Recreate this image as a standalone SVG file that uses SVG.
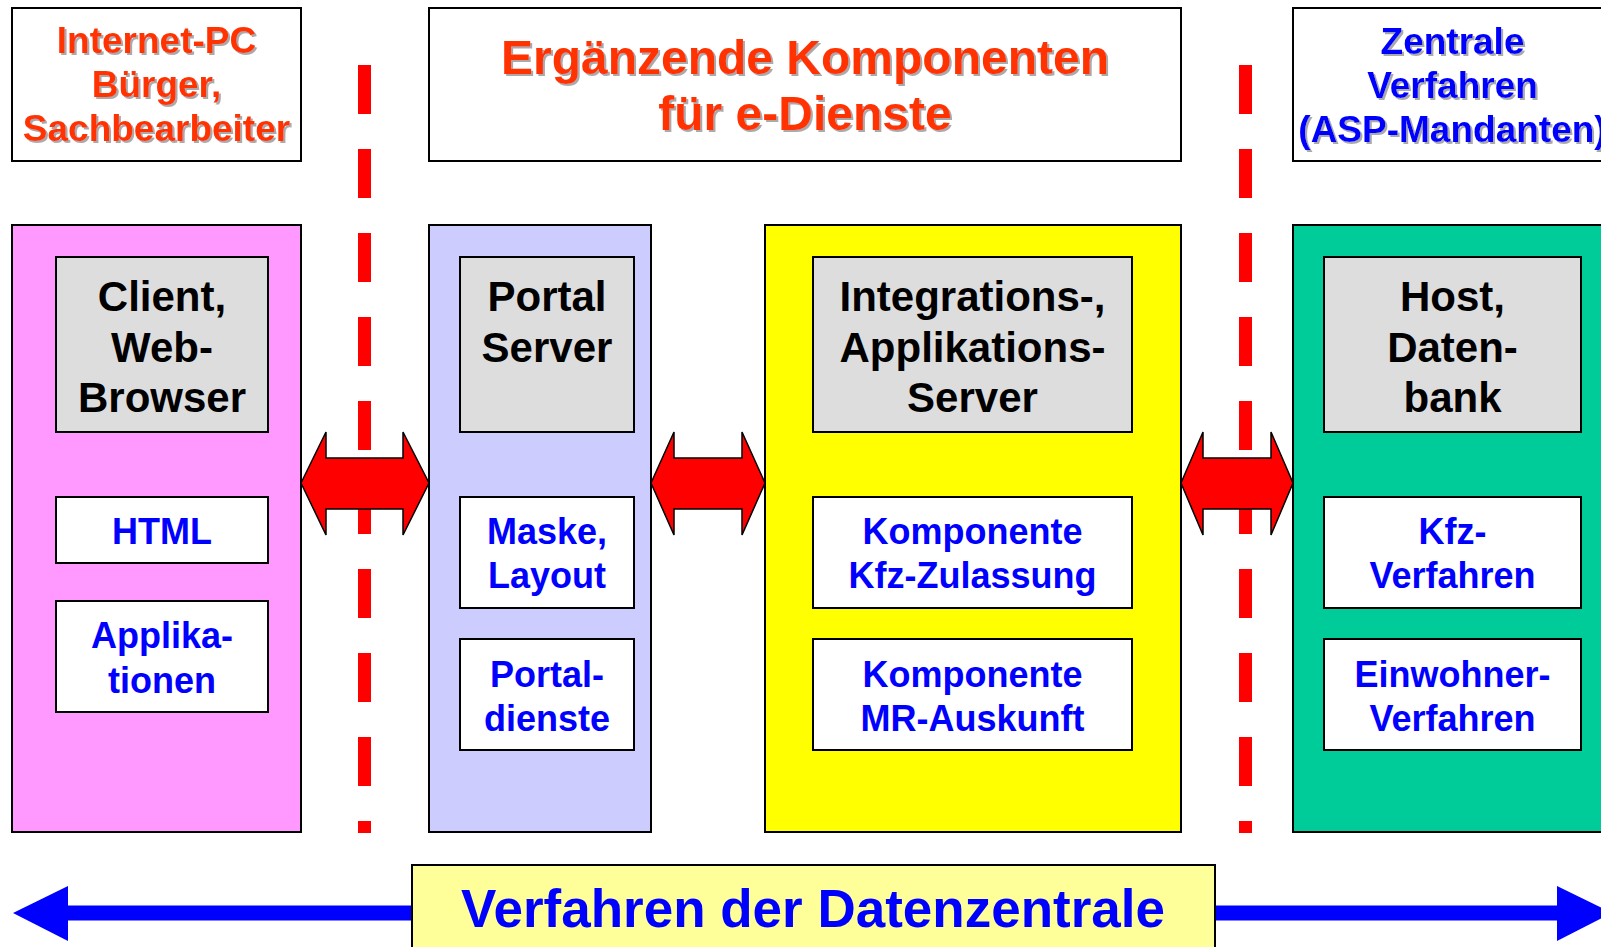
<svg xmlns="http://www.w3.org/2000/svg" width="1601" height="947" viewBox="0 0 1601 947">
<defs>
<filter id="sh" x="-5%" y="-20%" width="110%" height="140%">
<feDropShadow dx="2" dy="2" stdDeviation="0.6" flood-color="#aaaaaa" flood-opacity="1"/>
</filter>
<style>
text{font-family:"Liberation Sans",Arial,Helvetica,sans-serif;font-weight:bold;text-anchor:middle}
.box{stroke:#000;stroke-width:2}
.top{fill:#fff}
.gray{fill:#DDDDDD}
.white{fill:#fff}
.orange{fill:#FF3300;font-size:37px;filter:url(#sh)}
.orangeL{fill:#FF3300;font-size:48px;filter:url(#sh)}
.blueT{fill:#0000FF;font-size:37px;filter:url(#sh)}
.blk{fill:#000;font-size:42px}
.blu{fill:#0000FF;font-size:36px}
.big{fill:#0000FF;font-size:53px}
.dash{stroke:#FF0000;stroke-width:13;stroke-dasharray:49 35;fill:none}
.red{fill:#FF0000;stroke:#000;stroke-width:1.5;stroke-linejoin:miter}
</style>
</defs>
<rect width="1601" height="947" fill="#fff"/>

<g id="top-left">
<rect class="box top" x="12" y="8" width="289" height="153"/>
<text class="orange" x="156.5" y="53">Internet-PC</text>
<text class="orange" x="156.5" y="97">Bürger,</text>
<text class="orange" x="156.5" y="141">Sachbearbeiter</text>
</g>
<g id="top-middle">
<rect class="box top" x="429" y="8" width="752" height="153"/>
<text class="orangeL" x="805" y="74">Ergänzende Komponenten</text>
<text class="orangeL" x="805" y="130">für e-Dienste</text>
</g>
<g id="top-right">
<rect class="box top" x="1293" y="8" width="330" height="153"/>
<text class="blueT" x="1452.5" y="54">Zentrale</text>
<text class="blueT" x="1452.5" y="98">Verfahren</text>
<text class="blueT" x="1452.5" y="142">(ASP-Mandanten)</text>
</g>

<g id="dividers">
<line class="dash" x1="364.5" y1="65" x2="364.5" y2="833"/>
<line class="dash" x1="1245.5" y1="65" x2="1245.5" y2="833"/>
</g>

<g id="col-client">
<rect class="box" fill="#FF99FF" x="12" y="225" width="289" height="607"/>
<rect class="box gray" x="56" y="257" width="212" height="175"/>
<text class="blk" x="162" y="311">Client,</text>
<text class="blk" x="162" y="362">Web-</text>
<text class="blk" x="162" y="412">Browser</text>
<g id="html">
<rect class="box white" x="56" y="497" width="212" height="66"/>
<text class="blu" x="162" y="544">HTML</text>
</g>
<g id="applikationen">
<rect class="box white" x="56" y="601" width="212" height="111"/>
<text class="blu" x="162" y="648">Applika-</text>
<text class="blu" x="162" y="693">tionen</text>
</g>
</g>

<g id="col-portal">
<rect class="box" fill="#CCCCFF" x="429" y="225" width="222" height="607"/>
<rect class="box gray" x="460" y="257" width="174" height="175"/>
<text class="blk" x="547" y="311">Portal</text>
<text class="blk" x="547" y="362">Server</text>
<g id="maske">
<rect class="box white" x="460" y="497" width="174" height="111"/>
<text class="blu" x="547" y="544">Maske,</text>
<text class="blu" x="547" y="588">Layout</text>
</g>
<g id="portaldienste">
<rect class="box white" x="460" y="639" width="174" height="111"/>
<text class="blu" x="547" y="687">Portal-</text>
<text class="blu" x="547" y="731">dienste</text>
</g>
</g>

<g id="col-integration">
<rect class="box" fill="#FFFF00" x="765" y="225" width="416" height="607"/>
<rect class="box gray" x="813" y="257" width="319" height="175"/>
<text class="blk" x="972.5" y="311">Integrations-,</text>
<text class="blk" x="972.5" y="362">Applikations-</text>
<text class="blk" x="972.5" y="412">Server</text>
<g id="komp-kfz">
<rect class="box white" x="813" y="497" width="319" height="111"/>
<text class="blu" x="972.5" y="544">Komponente</text>
<text class="blu" x="972.5" y="588">Kfz-Zulassung</text>
</g>
<g id="komp-mr">
<rect class="box white" x="813" y="639" width="319" height="111"/>
<text class="blu" x="972.5" y="687">Komponente</text>
<text class="blu" x="972.5" y="731">MR-Auskunft</text>
</g>
</g>

<g id="col-host">
<rect class="box" fill="#00CC99" x="1293" y="225" width="330" height="607"/>
<rect class="box gray" x="1324" y="257" width="257" height="175"/>
<text class="blk" x="1452.5" y="311">Host,</text>
<text class="blk" x="1452.5" y="362">Daten-</text>
<text class="blk" x="1452.5" y="412">bank</text>
<g id="kfz-verfahren">
<rect class="box white" x="1324" y="497" width="257" height="111"/>
<text class="blu" x="1452.5" y="544">Kfz-</text>
<text class="blu" x="1452.5" y="588">Verfahren</text>
</g>
<g id="einwohner">
<rect class="box white" x="1324" y="639" width="257" height="111"/>
<text class="blu" x="1452.5" y="687">Einwohner-</text>
<text class="blu" x="1452.5" y="731">Verfahren</text>
</g>
</g>

<g id="connectors">
<polygon class="red" points="301,483 326,432 326,458 403,458 403,432 429,483 403,535 403,509 326,509 326,535"/>
<polygon class="red" points="651,483 674,432 674,458 742,458 742,432 765,483 742,535 742,509 674,509 674,535"/>
<polygon class="red" points="1181,483 1203,432 1203,458 1271,458 1271,432 1293,483 1271,535 1271,509 1203,509 1203,535"/>
<rect x="66" y="905.5" width="1493" height="15" fill="#0000FF"/>
<polygon points="13,913 68,886 68,941" fill="#0000FF"/>
<polygon points="1557,886 1612,913 1557,941" fill="#0000FF"/>
</g>

<g id="banner">
<rect class="box" fill="#FFFF99" x="412" y="865" width="803" height="100"/>
<text class="big" x="813" y="927">Verfahren der Datenzentrale</text>
</g>
</svg>
